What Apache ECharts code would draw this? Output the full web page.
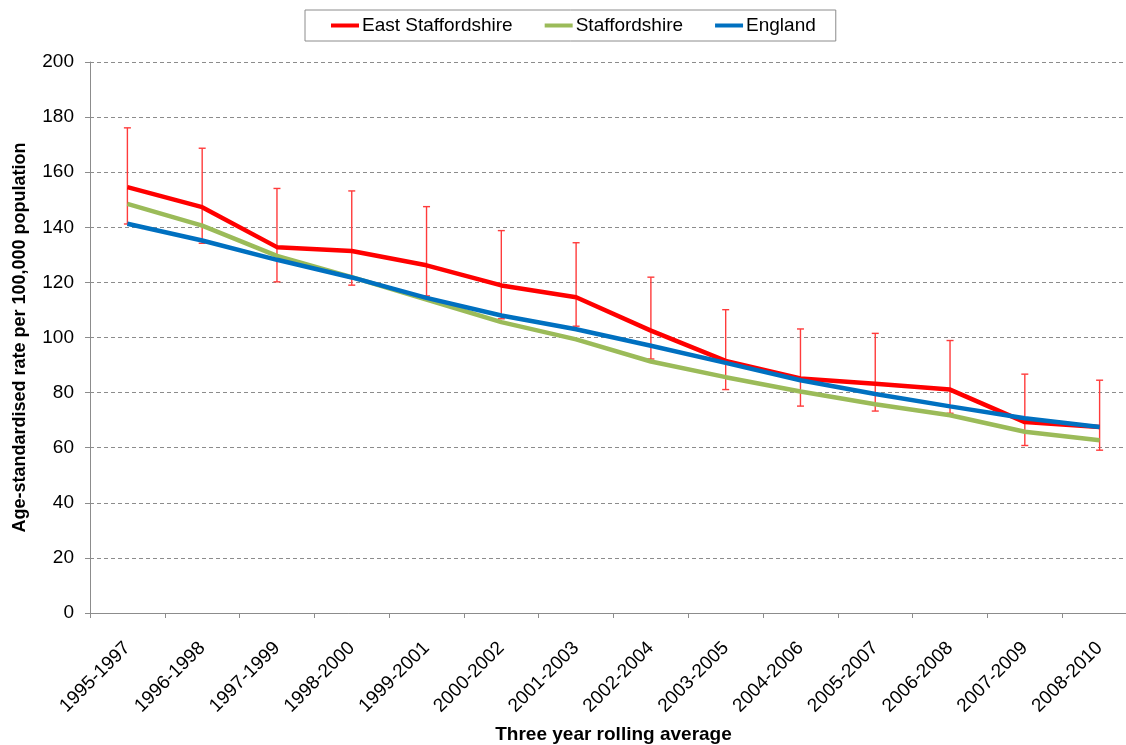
<!DOCTYPE html>
<html><head><meta charset="utf-8">
<script src="https://cdn.jsdelivr.net/npm/echarts@6/dist/echarts.min.js"></script>
<style>html,body{margin:0;padding:0;background:#fff}#c{width:1126px;height:745px}</style>
</head><body><div id="c"></div>
<script>
const categories = ['1995-1997','1996-1998','1997-1999','1998-2000','1999-2001','2000-2002','2001-2003','2002-2004','2003-2005','2004-2006','2005-2007','2006-2008','2007-2009','2008-2010'];
const eastStaffs = [154.6, 147.3, 132.8, 131.4, 126.2, 118.9, 114.6, 102.5, 91.5, 85.1, 83.2, 81.1, 69.3, 67.5];
const eastLower  = [141.2, 134.2, 120.2, 119.0, 115.1, 106.8, 104.1, 92.2, 81.1, 75.1, 73.3, 72.5, 60.8, 59.1];
const eastUpper  = [176.1, 168.7, 154.1, 153.2, 147.5, 138.8, 134.4, 121.9, 110.1, 103.1, 101.5, 98.9, 86.7, 84.5];
const staffs     = [148.5, 140.6, 129.6, 121.9, 113.8, 105.6, 99.3, 91.3, 85.6, 80.4, 75.8, 71.8, 65.8, 62.7];
const england    = [141.3, 135.2, 128.2, 121.8, 114.4, 108.0, 103.0, 97.0, 90.8, 84.5, 79.5, 75.0, 70.7, 67.5];
const yTicks = [0, 20, 40, 60, 80, 100, 120, 140, 160, 180, 200];

const errData = categories.map((c, i) => [i, eastLower[i], eastUpper[i]]);
const chart = echarts.init(document.getElementById('c'), null, {renderer: 'canvas'});
const font = 'Liberation Sans, Arial, sans-serif';
chart.setOption({
  animation: false,
  backgroundColor: '#fff',
  textStyle: {fontFamily: font},
  legend: {
    left: 305, top: 10,
    padding: [6, 20, 6, 26],
    itemGap: 32,
    itemWidth: 28, itemHeight: 4,
    icon: 'rect',
    borderColor: '#8c8c8c', borderWidth: 1,
    textStyle: {fontSize: 19, color: '#000', fontFamily: font, padding: [0, 0, 0, -2]},
    data: ['East Staffordshire', 'Staffordshire', 'England']
  },
  grid: {left: 90, top: 62, width: 1047, height: 551, containLabel: false, outerBoundsMode: 'none'},
  xAxis: {
    type: 'category', data: categories, boundaryGap: true,
    axisLine: {lineStyle: {color: '#8c8c8c', width: 1}},
    axisTick: {show: true, length: 5, lineStyle: {color: '#8c8c8c'}},
    axisLabel: {rotate: 45, fontSize: 19, color: '#000', margin: 32, fontFamily: font},
    name: 'Three year rolling average', nameLocation: 'middle', nameGap: 112,
    nameTextStyle: {fontSize: 19, fontWeight: 'bold', color: '#000', fontFamily: font}
  },
  yAxis: {
    type: 'value', min: 0, max: 200, interval: 20,
    axisLine: {show: true, lineStyle: {color: '#8c8c8c', width: 1}},
    axisTick: {show: true, length: 5, lineStyle: {color: '#8c8c8c'}},
    axisLabel: {fontSize: 19, color: '#000', margin: 16, fontFamily: font,
      formatter: v => yTicks.includes(v) ? String(v) : ''},
    splitLine: {show: true, lineStyle: {color: '#8c8c8c', type: [4, 3], width: 1}},
    name: 'Age-standardised rate per 100,000 population', nameLocation: 'middle', nameGap: 61,
    nameTextStyle: {fontSize: 18, fontWeight: 'bold', color: '#000', fontFamily: font}
  },
  series: [
    {
      type: 'custom', name: 'errors', z: 1, silent: true,
      data: errData,
      renderItem: function (params, api) {
        const x = api.value(0);
        const lo = api.coord([x, api.value(1)]);
        const hi = api.coord([x, api.value(2)]);
        const half = 3.5;
        const st = {stroke: '#ff3b3b', lineWidth: 1.4};
        return {type: 'group', children: [
          {type: 'line', shape: {x1: lo[0], y1: lo[1], x2: hi[0], y2: hi[1]}, style: st},
          {type: 'line', shape: {x1: lo[0] - half, y1: lo[1], x2: lo[0] + half, y2: lo[1]}, style: st},
          {type: 'line', shape: {x1: hi[0] - half, y1: hi[1], x2: hi[0] + half, y2: hi[1]}, style: st}
        ]};
      }
    },
    {name: 'East Staffordshire', type: 'line', data: eastStaffs, symbol: 'none', z: 3,
      lineStyle: {color: '#ff0000', width: 4.5}, itemStyle: {color: '#ff0000'}},
    {name: 'Staffordshire', type: 'line', data: staffs, symbol: 'none', z: 4,
      lineStyle: {color: '#9bbb59', width: 4.5}, itemStyle: {color: '#9bbb59'}},
    {name: 'England', type: 'line', data: england, symbol: 'none', z: 5,
      lineStyle: {color: '#0070c0', width: 4.5}, itemStyle: {color: '#0070c0'}}
  ]
});
</script></body></html>
